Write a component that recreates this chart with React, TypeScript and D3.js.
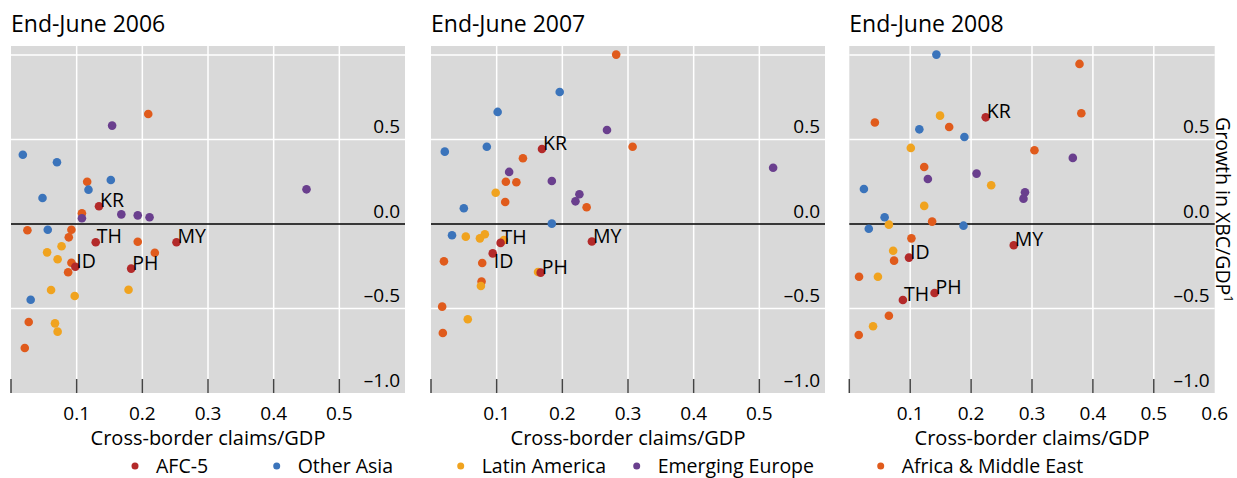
import React from "react";
import * as d3 from "d3";

// ---------------------- data (x = cross-border claims/GDP, y = growth in XBC/GDP)
const panelTitles = ["End-June 2006", "End-June 2007", "End-June 2008"];
const seriesNames = ["AFC-5", "Other Asia", "Latin America", "Emerging Europe", "Africa & Middle East"];
const seriesColors = ["#b32a2a", "#3b74bb", "#f0a31f", "#6a3f8e", "#e05b1c"];
const xTicks = [0.1, 0.2, 0.3, 0.4, 0.5];
const xTicks2008 = [0.1, 0.2, 0.3, 0.4, 0.5, 0.6];
const yTicks = [0.5, 0.0, -0.5, -1.0];

const afc2006 = [
  { c: "KR", x: 0.134, y: 0.105 }, { c: "TH", x: 0.129, y: -0.108 }, { c: "MY", x: 0.252, y: -0.108 },
  { c: "ID", x: 0.098, y: -0.253 }, { c: "PH", x: 0.183, y: -0.264 },
];
const afc2007 = [
  { c: "KR", x: 0.169, y: 0.444 }, { c: "TH", x: 0.106, y: -0.112 }, { c: "MY", x: 0.245, y: -0.104 },
  { c: "ID", x: 0.094, y: -0.174 }, { c: "PH", x: 0.167, y: -0.288 },
];
const afc2008 = [
  { c: "KR", x: 0.224, y: 0.631 }, { c: "MY", x: 0.27, y: -0.126 }, { c: "ID", x: 0.098, y: -0.199 },
  { c: "PH", x: 0.14, y: -0.408 }, { c: "TH", x: 0.088, y: -0.45 },
];

const asia2006 = [[0.018, 0.41], [0.07, 0.365], [0.152, 0.26], [0.118, 0.203], [0.048, 0.154], [0.056, -0.034], [0.03, -0.448]];
const asia2007 = [[0.196, 0.781], [0.1015, 0.663], [0.021, 0.428], [0.085, 0.457], [0.05, 0.093], [0.184, 0.002], [0.032, -0.067]];
const asia2008 = [[0.143, 1.002], [0.115, 0.56], [0.189, 0.515], [0.024, 0.207], [0.058, 0.04], [0.1875, -0.01], [0.032, -0.028]];

const latam2006 = [[0.077, -0.132], [0.055, -0.168], [0.071, -0.209], [0.061, -0.391], [0.179, -0.389], [0.097, -0.426], [0.067, -0.588], [0.071, -0.637]];
const latam2007 = [[0.0985, 0.185], [0.053, -0.075], [0.0745, -0.085], [0.082, -0.061], [0.111, -0.095], [0.163, -0.284], [0.076, -0.367], [0.056, -0.564]];
const latam2008 = [[0.149, 0.641], [0.101, 0.45], [0.233, 0.229], [0.123, 0.107], [0.065, -0.004], [0.072, -0.158], [0.047, -0.312], [0.039, -0.605]];

const europe2006 = [[0.154, 0.582], [0.45, 0.205], [0.108, 0.034], [0.168, 0.057], [0.193, 0.051], [0.211, 0.04]];
const europe2007 = [[0.268, 0.556], [0.119, 0.308], [0.184, 0.254], [0.521, 0.333], [0.226, 0.176], [0.22, 0.134]];
const europe2008 = [[0.367, 0.391], [0.209, 0.298], [0.129, 0.266], [0.2885, 0.188], [0.286, 0.15]];

const africa2006 = [[0.209, 0.651], [0.116, 0.25], [0.108, 0.063], [0.025, -0.037], [0.092, -0.034], [0.088, -0.079], [0.193, -0.105], [0.219, -0.17], [0.092, -0.229], [0.087, -0.286], [0.027, -0.58], [0.021, -0.734]];
const africa2007 = [[0.282, 1.002], [0.307, 0.457], [0.14, 0.389], [0.114, 0.25], [0.13, 0.247], [0.113, 0.13], [0.237, 0.099], [0.0197, -0.221], [0.078, -0.231], [0.077, -0.341], [0.017, -0.489], [0.018, -0.645]];
const africa2008 = [[0.378, 0.947], [0.381, 0.655], [0.042, 0.6], [0.164, 0.574], [0.304, 0.436], [0.123, 0.337], [0.136, 0.014], [0.102, -0.085], [0.0735, -0.217], [0.016, -0.312], [0.065, -0.543], [0.0155, -0.657]];

const font = "'Open Sans', 'Noto Sans', sans-serif";
const W = 1237;
const H = 478;
const top = 46;
const bottom = 393;

const panels = [
  { title: panelTitles[0], left: 11, right: 405, ticks: xTicks, afc: afc2006, others: [asia2006, latam2006, europe2006, africa2006] },
  { title: panelTitles[1], left: 431, right: 825, ticks: xTicks, afc: afc2007, others: [asia2007, latam2007, europe2007, africa2007] },
  { title: panelTitles[2], left: 849.3, right: 1214.7, ticks: xTicks2008, afc: afc2008, others: [asia2008, latam2008, europe2008, africa2008] },
];

const legendX = [135, 276.7, 460.7, 636.7, 880.7];

const Panel = ({ p }) => {
  const x = d3.scaleLinear().domain([0, 0.6]).range([p.left, p.right]);
  const y = d3.scaleLinear().domain([-1.0, 1.053]).range([bottom, top]);
  // draw order: Africa, Europe, LatAm, Other Asia, then AFC-5 on top
  const order = [3, 2, 1, 0];
  // ID label sits under its dot in 2007 so it clears TH
  const labelDy = c => (p.title === panelTitles[1] && c === "ID" ? 15 : 1);
  return (
    <g>
      <text x={p.left} y={32} fontSize={23} fill="#000">{p.title}</text>
      <rect x={p.left} y={top} width={p.right - p.left} height={bottom - top} fill="#d9d9d9" />
      {[0.1, 0.2, 0.3, 0.4, 0.5].map(t => (
        <line key={t} x1={x(t)} x2={x(t)} y1={top} y2={bottom} stroke="#fff" strokeWidth={1.5} />
      ))}
      {[1.0, 0.5, -0.5].map(t => (
        <line key={t} x1={p.left} x2={p.right} y1={y(t)} y2={y(t)} stroke="#fff" strokeWidth={1.5} />
      ))}
      <line x1={p.left} x2={p.right} y1={y(0)} y2={y(0)} stroke="#000" strokeWidth={1.5} />
      {[0, 0.1, 0.2, 0.3, 0.4, 0.5].map(t => (
        <line key={t} x1={x(t)} x2={x(t)} y1={bottom} y2={bottom - 14} stroke="#444" strokeWidth={1.5} />
      ))}
      {yTicks.map(t => (
        <text key={t} x={p.right - 5} y={y(t) - 6} fontSize={19} textAnchor="end" fill="#000">
          {t < 0 ? "\u2013" + Math.abs(t).toFixed(1) : t.toFixed(1)}
        </text>
      ))}
      {order.map(i => (
        <g key={i}>
          {p.others[i].map((d, j) => (
            <circle key={j} cx={x(d[0])} cy={y(d[1])} r={4.3} fill={seriesColors[i + 1]} />
          ))}
        </g>
      ))}
      {p.afc.map(d => (
        <g key={d.c}>
          <circle cx={x(d.x)} cy={y(d.y)} r={4.3} fill={seriesColors[0]} />
          <text x={x(d.x) + 1} y={y(d.y) + labelDy(d.c)} fontSize={19.5} fill="#000">{d.c}</text>
        </g>
      ))}
      {p.ticks.map(t => (
        <text key={t} x={x(t)} y={420} fontSize={19} textAnchor="middle" fill="#000">{t.toFixed(1)}</text>
      ))}
      <text x={(p.left + p.right) / 2} y={445} fontSize={20} textAnchor="middle" fill="#000">
        Cross-border claims/GDP
      </text>
    </g>
  );
};

export default function App() {
  return (
    <div style={{ position: "absolute", left: 0, top: 0 }}>
      <svg width={W} height={H} fontFamily={font} style={{ display: "block", background: "#fff" }}>
        {panels.map(p => <Panel key={p.title} p={p} />)}
        <text transform="translate(1216,117) rotate(90)" fontSize={19.5} fill="#000">
          Growth in XBC/GDP<tspan fontSize={13} dy={-8}>1</tspan>
        </text>
        {seriesNames.map((s, i) => (
          <g key={s}>
            <circle cx={legendX[i]} cy={466} r={3.5} fill={seriesColors[i]} />
            <text x={legendX[i] + 21} y={472.5} fontSize={19.5} fill="#000">{s}</text>
          </g>
        ))}
      </svg>
    </div>
  );
}
